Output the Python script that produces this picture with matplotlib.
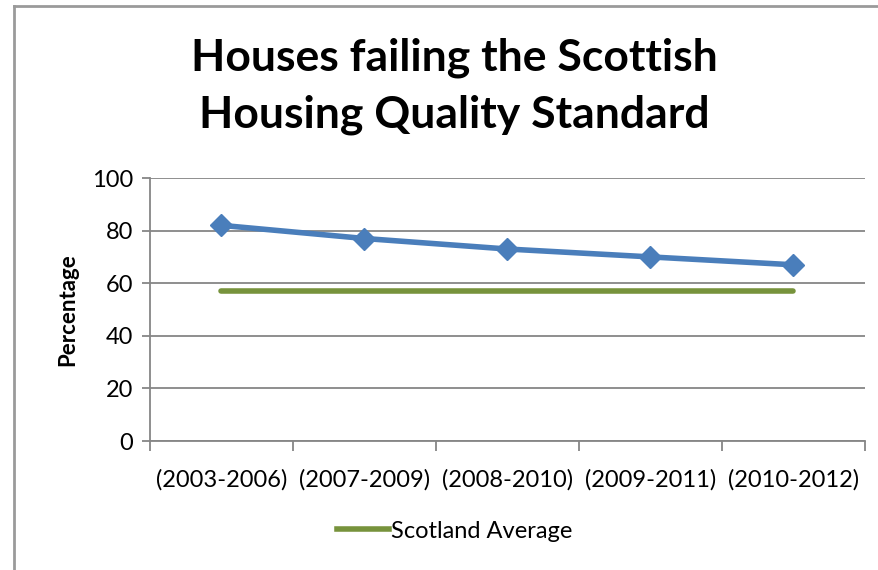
import numpy as np
import matplotlib.pyplot as plt
from matplotlib.lines import Line2D

plt.rcParams['font.family'] = ['Lato', 'DejaVu Sans']

# Data
periods = ['(2003-2006)', '(2007-2009)', '(2008-2010)', '(2009-2011)', '(2010-2012)']
area_pct = [82, 77, 73, 70, 67]
scotland_avg = [57, 57, 57, 57, 57]

fig = plt.figure(figsize=(8.79, 5.70), dpi=100)
ax = fig.add_axes([0.1706, 0.2263, 0.8134, 0.4614])

x = np.arange(len(periods))
ax.plot(x, area_pct, color='#4A7EBB', lw=4, marker='D', markersize=11,
        markeredgecolor='#4A7EBB', zorder=3)
ax.plot(x, scotland_avg, color='#77933C', lw=4, solid_capstyle='round', zorder=3)

ax.set_ylim(0, 100)
ax.set_xlim(-0.5, len(periods) - 0.5)
ax.set_yticks(np.arange(0, 101, 20))
ax.yaxis.grid(True, color='#868686', lw=1.3)
ax.set_axisbelow(True)

# category boundaries as major ticks, labels at centers
ax.set_xticks(np.arange(-0.5, len(periods), 1.0))
ax.set_xticklabels([])
ax.set_xticks(x, minor=True)
ax.set_xticklabels(periods, minor=True)
ax.tick_params(axis='x', which='major', length=7, width=1.3, color='#868686', direction='out')
ax.tick_params(axis='x', which='minor', length=0, pad=20, labelsize=17)
ax.tick_params(axis='y', length=6, width=1.3, color='#868686', labelsize=17, pad=6)

for s in ['top', 'right']:
    ax.spines[s].set_visible(False)
for s in ['left', 'bottom']:
    ax.spines[s].set_color('#868686')
    ax.spines[s].set_linewidth(1.3)

ax.set_ylabel('Percentage', fontsize=16, fontweight='bold', labelpad=10)

fig.text(0.517, 0.848, 'Houses failing the Scottish\nHousing Quality Standard',
         ha='center', va='center', fontsize=32, fontweight='bold', linespacing=1.5)

handle = Line2D([0], [0], color='#77933C', lw=4)
fig.legend([handle], ['Scotland Average'], loc='center', bbox_to_anchor=(0.517, 0.068),
           frameon=False, fontsize=17, handlelength=2.2, handletextpad=0.1)

# outer border (chart area edge)
fig.add_artist(Line2D([14 / 879, 14 / 879], [0, 1 - 6 / 570], transform=fig.transFigure,
                      color='#9a9a9a', lw=2))
fig.add_artist(Line2D([14 / 879, 1], [1 - 6 / 570, 1 - 6 / 570], transform=fig.transFigure,
                      color='#9a9a9a', lw=2))

fig.savefig('out.png', dpi=100)
